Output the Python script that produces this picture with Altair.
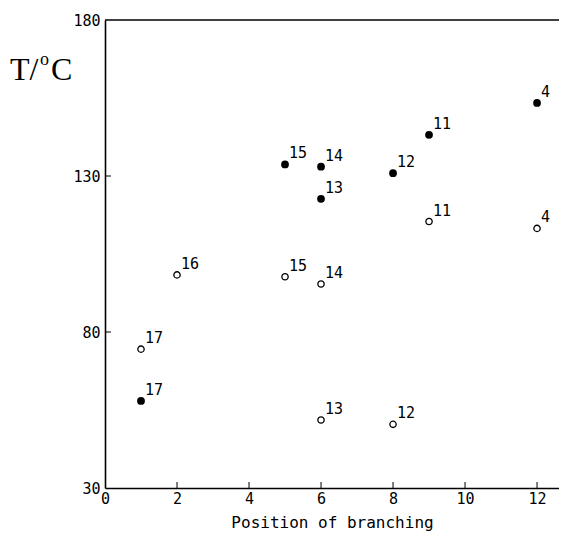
import altair as alt
import pandas as pd

# Filled points
filled_x = [1, 5, 6, 6, 8, 9, 12]
filled_y = [57.9, 133.7, 133.0, 122.7, 130.9, 143.2, 153.4]
filled_lab = ["17", "15", "14", "13", "12", "11", "4"]

# Open points
open_x = [1, 2, 5, 6, 6, 8, 9, 12]
open_y = [74.5, 98.3, 97.7, 95.4, 51.8, 50.4, 115.4, 113.2]
open_lab = ["17", "16", "15", "14", "13", "12", "11", "4"]

x_ticks = [0, 2, 4, 6, 8, 10, 12]
y_ticks = [30, 80, 130, 180]

FONT = "DejaVu Sans Mono"

df_f = pd.DataFrame({"x": filled_x, "y": filled_y, "lab": filled_lab})
df_o = pd.DataFrame({"x": open_x, "y": open_y, "lab": open_lab})

W, H = 454, 468
xs = alt.Scale(domain=[0, 12.61], nice=False, zero=False)
ys = alt.Scale(domain=[30, 180], nice=False, zero=False)

xax = alt.Axis(values=x_ticks, ticks=False, grid=False, domainColor="black",
               domainWidth=1.6, labelFont=FONT, labelFontSize=15, labelColor="black",
               labelPadding=3, title="Position of branching", titleFont=FONT,
               titleFontSize=16, titleFontWeight="normal", titleColor="black",
               titlePadding=8, labelFlush=False)
yax = alt.Axis(values=y_ticks, ticks=False, grid=False, domainColor="black",
               domainWidth=1.6, labelFont=FONT, labelFontSize=15, labelColor="black",
               labelPadding=5, labelBaseline="middle", title=None, labelFlush=False)

base_f = alt.Chart(df_f)
base_o = alt.Chart(df_o)

pts_f = base_f.mark_point(filled=True, color="black", size=60, opacity=1).encode(
    x=alt.X("x:Q", scale=xs, axis=xax),
    y=alt.Y("y:Q", scale=ys, axis=yax),
)
pts_o = base_o.mark_point(filled=False, color="black", size=40, strokeWidth=1.3, opacity=1).encode(
    x=alt.X("x:Q", scale=xs),
    y=alt.Y("y:Q", scale=ys),
)
lab_f = base_f.mark_text(align="left", baseline="bottom", dx=4, dy=-3, font=FONT,
                         fontSize=15, color="black").encode(
    x=alt.X("x:Q", scale=xs), y=alt.Y("y:Q", scale=ys), text="lab:N")
lab_o = base_o.mark_text(align="left", baseline="bottom", dx=4, dy=-3, font=FONT,
                         fontSize=15, color="black").encode(
    x=alt.X("x:Q", scale=xs), y=alt.Y("y:Q", scale=ys), text="lab:N")

# top frame line
top = alt.Chart(pd.DataFrame({"v": [180]})).mark_rule(color="black", strokeWidth=1.6).encode(
    y=alt.Y("v:Q", scale=ys))

# inward ticks
xt = alt.Chart(pd.DataFrame({"t": x_ticks[1:]})).mark_rule(color="black", strokeWidth=1).encode(
    x=alt.X("t:Q", scale=xs), y=alt.value(H), y2=alt.value(H - 6))
yt = alt.Chart(pd.DataFrame({"t": [80, 130]})).mark_rule(color="black", strokeWidth=1).encode(
    y=alt.Y("t:Q", scale=ys), x=alt.value(0), x2=alt.value(6))

one = pd.DataFrame({"a": [0]})
t1 = alt.Chart(one).mark_text(align="left", baseline="alphabetic", font="Liberation Serif",
                              fontSize=32, color="black").encode(
    x=alt.value(-95), y=alt.value(60), text=alt.value("T/"))
t2 = alt.Chart(one).mark_text(align="left", baseline="alphabetic", font="Liberation Serif",
                              fontSize=18, color="black").encode(
    x=alt.value(-65), y=alt.value(45), text=alt.value("o"))
t3 = alt.Chart(one).mark_text(align="left", baseline="alphabetic", font="Liberation Serif",
                              fontSize=32, color="black").encode(
    x=alt.value(-54), y=alt.value(60), text=alt.value("C"))

chart = alt.layer(pts_f, pts_o, lab_f, lab_o, top, xt, yt, t1, t2, t3).properties(
    width=W, height=H,
    padding={"left": 97, "top": 12, "right": 0, "bottom": 46},
    autosize=alt.AutoSizeParams(type="none"),
    background="white",
).configure_view(stroke=None)

chart.save("out.html", embed_options={"renderer": "svg", "actions": False})
